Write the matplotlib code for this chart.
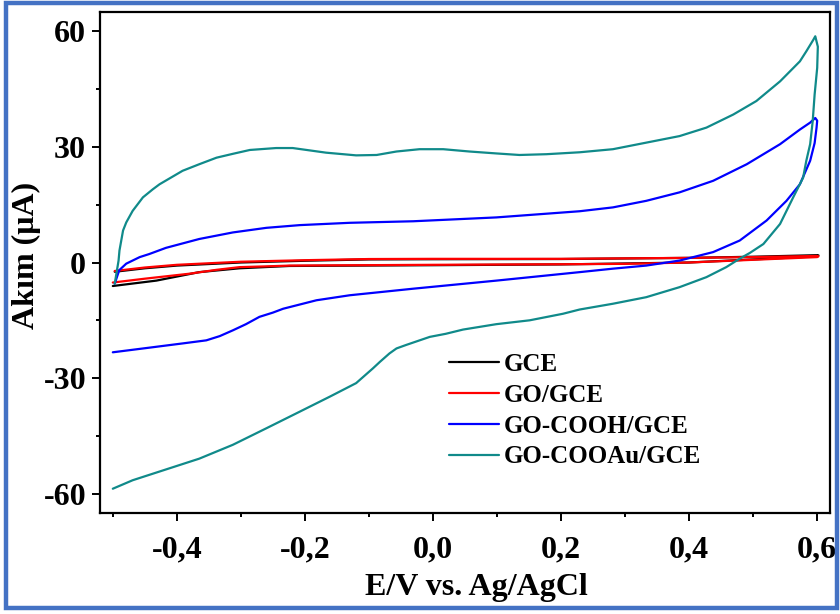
import matplotlib
matplotlib.use("Agg")
import matplotlib.pyplot as plt
from matplotlib.patches import Rectangle
from matplotlib.ticker import FixedLocator, MultipleLocator

plt.rcParams['font.family'] = ['Liberation Serif', 'DejaVu Serif']
plt.rcParams['font.weight'] = 'bold'

# ---- data ----
gce_x = [-0.497, -0.45, -0.4, -0.3, -0.2, -0.1, 0.0, 0.2, 0.4, 0.5, 0.6, 0.602,
         0.6, 0.5, 0.4, 0.2, 0.0, -0.224, -0.302, -0.365, -0.432, -0.5]
gce_y = [-2.4, -1.5, -0.8, 0.0, 0.45, 0.8, 0.85, 0.9, 1.2, 1.5, 1.9, 1.85,
         1.6, 0.8, 0.0, -0.5, -0.7, -0.9, -1.5, -2.5, -4.7, -6.1]

go_x = [-0.497, -0.45, -0.4, -0.3, -0.2, -0.1, 0.0, 0.2, 0.4, 0.5, 0.6, 0.602,
        0.6, 0.5, 0.4, 0.3, 0.2, 0.0, -0.224, -0.26, -0.302, -0.338, -0.38, -0.45, -0.5]
go_y = [-2.2, -1.3, -0.6, 0.2, 0.6, 0.9, 0.95, 0.95, 1.2, 1.4, 1.7, 1.6,
        1.4, 0.7, 0.0, -0.35, -0.45, -0.6, -0.8, -1.0, -1.2, -1.9, -2.9, -4.2, -5.2]

cooh_x = [-0.497, -0.49, -0.479, -0.458, -0.443, -0.417, -0.365, -0.3125, -0.260,
          -0.208, -0.130, -0.031, 0.099, 0.229, 0.281, 0.333, 0.385, 0.4375,
          0.490, 0.542, 0.573, 0.589, 0.597, 0.600, 0.599, 0.596, 0.589, 0.573,
          0.552, 0.521, 0.479, 0.4375, 0.385, 0.333, 0.281, 0.229, 0.099,
          -0.031, -0.130, -0.182, -0.234, -0.25, -0.271, -0.292, -0.3125,
          -0.333, -0.354, -0.391, -0.443, -0.5]
cooh_y = [-5.5, -2.0, -0.3, 1.4, 2.2, 3.8, 6.1, 7.8, 9.0,
          9.7, 10.3, 10.7, 11.7, 13.3, 14.3, 16.0, 18.2, 21.2,
          25.5, 30.7, 34.5, 36.3, 37.5, 36.8, 35.0, 31.0, 26.4, 20.3,
          16.0, 10.9, 5.7, 2.7, 0.5, -0.8, -1.6, -2.5, -4.7,
          -6.8, -8.5, -9.8, -12.0, -13.0, -14.1, -16.0, -17.6,
          -19.1, -20.2, -21.0, -22.1, -23.3]

cooau_x = [-0.497, -0.491, -0.4896, -0.484, -0.479, -0.469, -0.453, -0.4375, -0.427,
           -0.391, -0.365, -0.338, -0.3125, -0.286, -0.245, -0.219, -0.167, -0.120,
           -0.088, -0.057, -0.021, 0.016, 0.057, 0.099, 0.135, 0.177, 0.229, 0.281,
           0.333, 0.385, 0.427, 0.469, 0.505, 0.542, 0.573, 0.583, 0.594, 0.597,
           0.601, 0.600, 0.596, 0.593, 0.589, 0.583, 0.578, 0.5625, 0.542, 0.516,
           0.495, 0.479, 0.458, 0.427, 0.385, 0.333, 0.281, 0.229, 0.203, 0.151,
           0.099, 0.047, 0.02, -0.005, -0.042, -0.057, -0.068, -0.083, -0.094,
           -0.120, -0.161, -0.208, -0.260, -0.3125, -0.365, -0.417, -0.469, -0.5]
cooau_y = [-5.5, 0.5, 3.1, 8.3, 10.4, 13.4, 16.9, 19.0, 20.3,
           23.8, 25.5, 27.2, 28.2, 29.2, 29.7, 29.7, 28.5, 27.8,
           27.9, 28.8, 29.4, 29.4, 28.8, 28.3, 27.9, 28.1, 28.6, 29.4,
           31.1, 32.8, 35.0, 38.4, 41.9, 47.0, 52.2, 54.8, 57.8, 58.7,
           56.0, 50.5, 43.6, 36.7, 30.7, 26.4, 22.0, 16.9, 10.0, 4.8,
           2.5, 1.0, -1.2, -3.8, -6.4, -9.0, -10.7, -12.2, -13.3, -15.0,
           -16.0, -17.4, -18.5, -19.3, -21.4, -22.3, -23.6, -25.8, -27.5,
           -31.3, -34.8, -38.7, -43.0, -47.3, -50.9, -53.7, -56.5, -58.7]

labels = ['GCE', 'GO/GCE', 'GO-COOH/GCE', 'GO-COOAu/GCE']
colors = ['#000000', '#ff0000', '#0000ff', '#108a8a']

xticks = [-0.4, -0.2, 0.0, 0.2, 0.4, 0.6]
xtick_labels = ['-0,4', '-0,2', '0,0', '0,2', '0,4', '0,6']
yticks = [-60, -30, 0, 30, 60]
ytick_labels = ['-60', '-30', '0', '30', '60']

# ---- figure ----
fig = plt.figure(figsize=(8.4, 6.14), dpi=100)
ax = fig.add_axes([100/840, (614-513)/614, 730/840, 501/614])

series = [(gce_x, gce_y), (go_x, go_y), (cooh_x, cooh_y), (cooau_x, cooau_y)]
for (xs, ys), lab, col in zip(series, labels, colors):
    ax.plot(xs, ys, color=col, lw=1.6, label=lab,
            solid_joinstyle='round', solid_capstyle='round')

ax.set_xlim(-0.52, 0.62)
ax.set_ylim(-65, 65)
ax.xaxis.set_major_locator(FixedLocator(xticks))
ax.set_xticklabels(xtick_labels)
ax.xaxis.set_minor_locator(MultipleLocator(0.1))
ax.yaxis.set_major_locator(FixedLocator(yticks))
ax.set_yticklabels(ytick_labels)
ax.yaxis.set_minor_locator(MultipleLocator(15))

for s in ax.spines.values():
    s.set_linewidth(1.6)
ax.tick_params(which='major', direction='out', length=6, width=1.4, labelsize=23)
ax.tick_params(which='minor', direction='out', length=3.2, width=1.4)
ax.tick_params(axis='x', which='major', pad=10)
ax.tick_params(axis='y', which='major', pad=4)
for t in ax.get_xticklabels() + ax.get_yticklabels():
    t.set_fontweight('bold')

ax.set_xlabel('E/V vs. Ag/AgCl', fontsize=23, fontweight='bold', labelpad=6)
ax.set_ylabel('Akım (μA)', fontsize=23, fontweight='bold', labelpad=2)
ax.xaxis.label.set_x(0.516)
ax.yaxis.label.set_y(0.515)

leg = ax.legend(loc='upper left', bbox_to_anchor=(0.465, 0.339), frameon=False,
                prop={'size': 18, 'weight': 'bold'}, handlelength=2.0,
                handletextpad=0.18, labelspacing=0.31, borderaxespad=0)

fig.patches.append(Rectangle((5.5/840, 6/614), 831.5/840, 605/614, transform=fig.transFigure,
                             fill=False, edgecolor='#4472C4', linewidth=3.2))

fig.savefig('out.png', dpi=100)
